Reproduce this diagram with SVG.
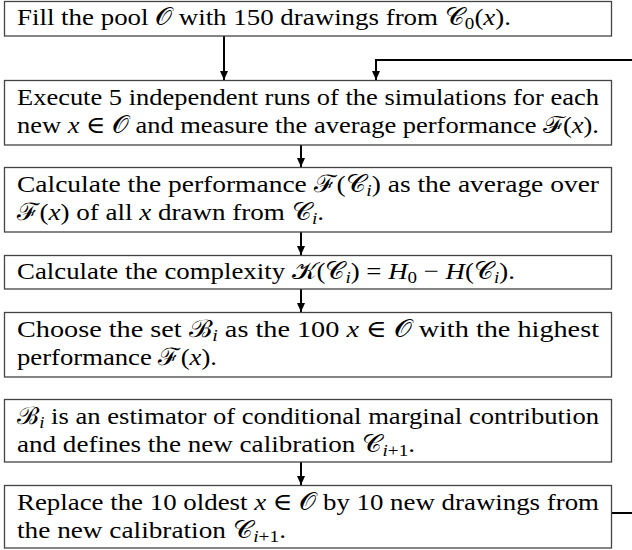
<svg xmlns="http://www.w3.org/2000/svg" width="632" height="550" viewBox="0 0 632 550">
<style>
.box{fill:#fff;stroke:#444;stroke-width:1.3}
.t{font-family:"Liberation Serif","DejaVu Serif","Times New Roman",serif;font-size:24px;fill:#000}
.m{font-style:italic}
.s{font-size:17px}
.conn path{stroke:#000;stroke-width:2;fill:none}
</style>
<defs>
<marker id="ah" viewBox="0 0 10 10" refX="10" refY="5" markerWidth="9" markerHeight="8" markerUnits="userSpaceOnUse" orient="auto" preserveAspectRatio="none"><path d="M0,0 L10,5 L0,10 z" fill="#000"/></marker>
</defs>
<rect width="632" height="550" fill="#fff"/>
<g class="conn">
<path d="M224,36 V80" marker-end="url(#ah)"/>
<path d="M632,60 H376 V80" marker-end="url(#ah)"/>
<path d="M301,145 V167" marker-end="url(#ah)"/>
<path d="M301,232 V255" marker-end="url(#ah)"/>
<path d="M301,289 V312" marker-end="url(#ah)"/>
<path d="M301,462 V485" marker-end="url(#ah)"/>
<path d="M611.5,513 H632"/>
</g>
<g id="n1">
<rect class="box" x="4.5" y="1.5" width="607" height="34.5"/>
<text class="t" x="17" y="25" textLength="494" lengthAdjust="spacingAndGlyphs">Fill the pool 𝒪 with 150 drawings from 𝒞<tspan class="s" dy="4">0</tspan><tspan dy="-4">(</tspan><tspan class="m">x</tspan>).</text>
</g>
<g id="n2">
<rect class="box" x="4.5" y="80.5" width="607" height="64.5"/>
<text class="t" x="17" y="105" textLength="582" lengthAdjust="spacingAndGlyphs">Execute 5 independent runs of the simulations for each</text>
<text class="t" x="17" y="133" textLength="582" lengthAdjust="spacingAndGlyphs">new <tspan class="m">x</tspan> ∈ 𝒪 and measure the average performance ℱ(<tspan class="m">x</tspan>).</text>
</g>
<g id="n3">
<rect class="box" x="4.5" y="167.5" width="607" height="64.5"/>
<text class="t" x="17" y="192" textLength="582" lengthAdjust="spacingAndGlyphs">Calculate the performance ℱ(𝒞<tspan class="s m" dy="4">i</tspan><tspan dy="-4">)</tspan> as the average over</text>
<text class="t" x="17" y="220" textLength="307" lengthAdjust="spacingAndGlyphs">ℱ(<tspan class="m">x</tspan>) of all <tspan class="m">x</tspan> drawn from 𝒞<tspan class="s m" dy="4">i</tspan><tspan dy="-4">.</tspan></text>
</g>
<g id="n4">
<rect class="box" x="4.5" y="255.5" width="607" height="33.5"/>
<text class="t" x="17" y="279" textLength="498" lengthAdjust="spacingAndGlyphs">Calculate the complexity 𝒦(𝒞<tspan class="s m" dy="4">i</tspan><tspan dy="-4">)</tspan> = <tspan class="m">H</tspan><tspan class="s" dy="4">0</tspan><tspan dy="-4"> − </tspan><tspan class="m">H</tspan>(𝒞<tspan class="s m" dy="4">i</tspan><tspan dy="-4">).</tspan></text>
</g>
<g id="n5">
<rect class="box" x="4.5" y="312.5" width="607" height="64.5"/>
<text class="t" x="17" y="337" textLength="582" lengthAdjust="spacingAndGlyphs">Choose the set ℬ<tspan class="s m" dy="4">i</tspan><tspan dy="-4"> as the 100 </tspan><tspan class="m">x</tspan> ∈ 𝒪 with the highest</text>
<text class="t" x="17" y="365" textLength="200" lengthAdjust="spacingAndGlyphs">performance ℱ(<tspan class="m">x</tspan>).</text>
</g>
<g id="n6">
<rect class="box" x="4.5" y="399.5" width="607" height="62.5"/>
<text class="t" x="17" y="424" textLength="582" lengthAdjust="spacingAndGlyphs">ℬ<tspan class="s m" dy="4">i</tspan><tspan dy="-4"> is an estimator of conditional marginal contribution</tspan></text>
<text class="t" x="17" y="452" textLength="398" lengthAdjust="spacingAndGlyphs">and defines the new calibration 𝒞<tspan class="s" dy="4"><tspan class="m">i</tspan>+1</tspan><tspan dy="-4">.</tspan></text>
</g>
<g id="n7">
<rect class="box" x="4.5" y="485.5" width="607" height="62.5"/>
<text class="t" x="17" y="510" textLength="582" lengthAdjust="spacingAndGlyphs">Replace the 10 oldest <tspan class="m">x</tspan> ∈ 𝒪 by 10 new drawings from</text>
<text class="t" x="17" y="538" textLength="269" lengthAdjust="spacingAndGlyphs">the new calibration 𝒞<tspan class="s" dy="4"><tspan class="m">i</tspan>+1</tspan><tspan dy="-4">.</tspan></text>
</g>
</svg>
